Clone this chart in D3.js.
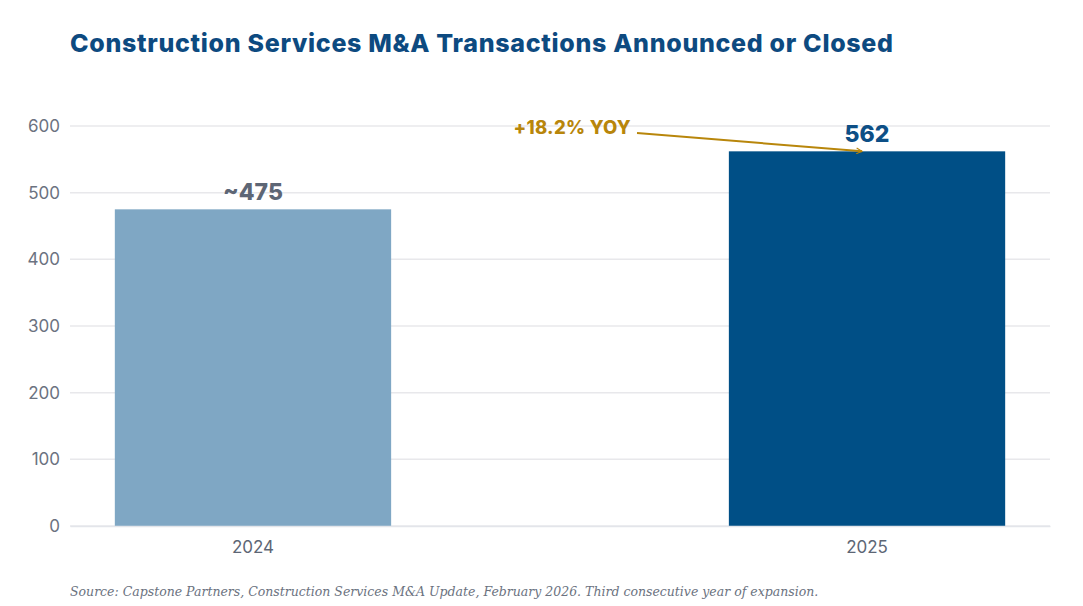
<!DOCTYPE html>
<html>
<head>
<meta charset="utf-8">
<script src="https://cdn.jsdelivr.net/npm/d3@7"></script>
<style>
  html, body { margin: 0; padding: 0; background: #ffffff; }
  svg { display: block; }
</style>
</head>
<body>
<svg id="chart" width="1083" height="606"></svg>
<script>
const categories = ["2024", "2025"];
const values = [475, 562];
const valueLabels = ["~475", "562"];
const yTicks = [0, 100, 200, 300, 400, 500, 600];
const titleText = "Construction Services M&A Transactions Announced or Closed";
const annotationText = "+18.2% YOY";
const sourceText = "Source: Capstone Partners, Construction Services M&A Update, February 2026. Third consecutive year of expansion.";

const barColors = ["#7fa7c4", "#004f86"];
const labelColors = ["#5d6675", "#0d4f86"];
const gold = "#b8860b";

const svg = d3.select("#chart");
const margin = { left: 70, right: 33, top: 126, bottom: 80 };
const W = 1083, H = 606;

const x = d3.scaleBand()
  .domain(categories)
  .range([margin.left, W - margin.right])
  .paddingInner(0.55)
  .paddingOuter(0.073);

const y = d3.scaleLinear()
  .domain([0, 600])
  .range([H - margin.bottom, margin.top]);

// Title
svg.append("text")
  .attr("x", 70).attr("y", 52)
  .attr("font-family", "Inter, 'Open Sans', sans-serif")
  .attr("font-weight", 800)
  .attr("font-size", 25)
  .attr("fill", "#0d4a80")
  .attr("textLength", 823)
  .attr("lengthAdjust", "spacing")
  .text(titleText);

// Gridlines
svg.append("g")
  .selectAll("line")
  .data(yTicks)
  .join("line")
  .attr("x1", margin.left).attr("x2", W - margin.right)
  .attr("y1", d => y(d)).attr("y2", d => y(d))
  .attr("stroke", "#e8e8eb")
  .attr("stroke-width", 1.5);

// Y axis
const yAxis = svg.append("g")
  .attr("transform", `translate(${margin.left},0)`)
  .call(d3.axisLeft(y).tickValues(yTicks).tickSize(0).tickPadding(10));
yAxis.select(".domain").remove();
yAxis.selectAll("text")
  .attr("font-family", "Inter, sans-serif")
  .attr("font-size", 17)
  .attr("fill", "#6b7280");

// Bars
svg.append("g")
  .selectAll("rect")
  .data(categories)
  .join("rect")
  .attr("x", d => x(d))
  .attr("width", x.bandwidth())
  .attr("y", (d, i) => y(values[i]))
  .attr("height", (d, i) => y(0) - y(values[i]))
  .attr("fill", (d, i) => barColors[i]);

// X axis
const xAxis = svg.append("g")
  .attr("transform", `translate(0,${y(0)})`)
  .call(d3.axisBottom(x).tickSize(0).tickPadding(12));
xAxis.select(".domain").attr("stroke", "#e3e5ea").attr("stroke-width", 1.5);
xAxis.selectAll("text")
  .attr("font-family", "Inter, sans-serif")
  .attr("font-size", 17)
  .attr("fill", "#5d6675")
  .attr("dy", "0.9em");

// Value labels
svg.append("g")
  .selectAll("text")
  .data(categories)
  .join("text")
  .attr("x", d => x(d) + x.bandwidth() / 2)
  .attr("y", (d, i) => y(values[i]) - 9)
  .attr("text-anchor", "middle")
  .attr("font-family", "Inter, sans-serif")
  .attr("font-weight", 800)
  .attr("font-size", 23)
  .attr("fill", (d, i) => labelColors[i])
  .text((d, i) => valueLabels[i]);

// Annotation
const defs = svg.append("defs");
defs.append("marker")
  .attr("id", "arrow")
  .attr("viewBox", "0 0 10 10")
  .attr("refX", 9).attr("refY", 5)
  .attr("markerWidth", 7).attr("markerHeight", 7)
  .attr("markerUnits", "userSpaceOnUse")
  .attr("orient", "auto")
  .append("path")
  .attr("d", "M1,1 L9,5 L1,9")
  .attr("fill", "none")
  .attr("stroke", gold)
  .attr("stroke-width", 1.6);

svg.append("text")
  .attr("x", 631).attr("y", 134)
  .attr("text-anchor", "end")
  .attr("font-family", "Inter, sans-serif")
  .attr("font-weight", 800)
  .attr("font-size", 18.5)
  .attr("letter-spacing", 0.3)
  .attr("fill", gold)
  .text(annotationText);

const bx = x("2025") + x.bandwidth() / 2 - 5;
svg.append("line")
  .attr("x1", 637).attr("y1", 133)
  .attr("x2", bx).attr("y2", y(values[1]))
  .attr("stroke", gold)
  .attr("stroke-width", 2)
  .attr("marker-end", "url(#arrow)");

// Source
svg.append("text")
  .attr("x", 70).attr("y", 596)
  .attr("font-family", "'DejaVu Serif', serif")
  .attr("font-style", "italic")
  .attr("font-size", 12.5)
  .attr("fill", "#6b7280")
  .text(sourceText);
</script>
</body>
</html>
